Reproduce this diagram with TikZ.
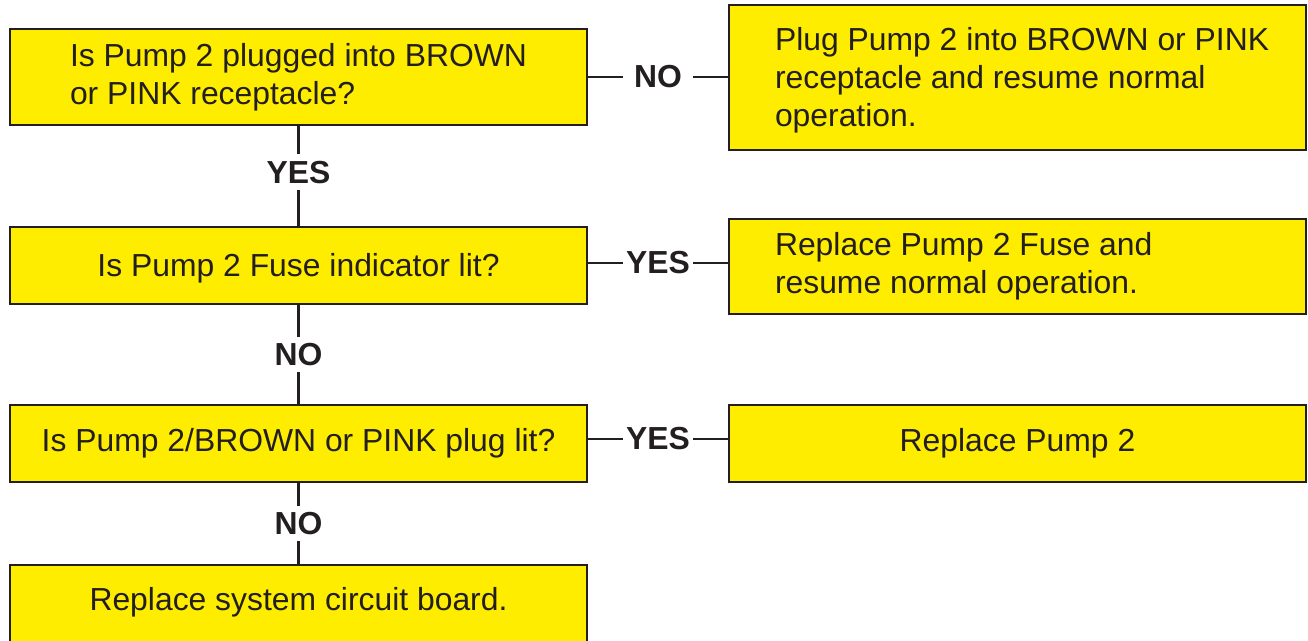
\documentclass[tikz,border=0pt]{standalone}
\usepackage{fontspec}
\setmainfont{Liberation Sans}
\definecolor{yel}{HTML}{FFED00}
\definecolor{ink}{HTML}{231F20}
\newcommand{\lefttext}[1]{\makebox[363.75pt][l]{\begin{tabular}{@{}l@{}}#1\end{tabular}}}
\begin{document}
\begin{tikzpicture}[x=0.75pt,y=-0.75pt,
  box/.style={draw=ink, line width=2.2pt, fill=yel, minimum width=432.75pt,
    inner sep=0pt, text=ink, font=\fontsize{23.9}{28.5}\selectfont},
  conn/.style={draw=ink, line width=1.9pt},
  lbl/.style={fill=white, text=ink, inner xsep=2pt, inner ysep=5pt,
    font=\fontsize{23.9}{28.5}\selectfont\bfseries},
  lblwide/.style={lbl, inner xsep=8pt}]
\useasboundingbox (0,0) rectangle (1308,641);
\fill[white] (0,0) rectangle (1308,641);
% left column
\node[box, minimum height=72pt, align=left] (b1) at (298.5,77)
  {Is Pump 2 plugged into BROWN\\or PINK receptacle?};
\node[box, minimum height=57.75pt, text depth=0.8pt] (b2) at (298.5,265.5)
  {Is Pump 2 Fuse indicator lit?};
\node[box, minimum height=57.75pt] (b3) at (298.5,443.5)
  {Is Pump 2/BROWN or PINK plug lit?};
\node[box, minimum height=67.5pt, text depth=17pt] (b4) at (298.5,610)
  {Replace system circuit board.};
% right column
\node[box, minimum height=108.75pt] (r1) at (1017.5,77.5)
  {\raisebox{-2.2pt}[\height][\depth]{\lefttext{Plug Pump 2 into BROWN or PINK\\receptacle and resume normal\\operation.}}};
\node[box, minimum height=71.25pt] (r2) at (1017.5,266.5)
  {\lefttext{Replace Pump 2 Fuse and\\resume normal operation.}};
\node[box, minimum height=57.75pt] (r3) at (1017.5,443.5)
  {Replace Pump 2};
% vertical connectors
\draw[conn] (b1.south) -- node[lbl, pos=0.46] {YES} (b2.north);
\draw[conn] (b2.south) -- node[lbl] {NO} (b3.north);
\draw[conn] (b3.south) -- node[lbl] {NO} (b4.north);
% horizontal connectors
\draw[conn] (b1.east) -- node[lblwide] {NO} (b1.east -| r1.west);
\draw[conn] ([yshift=1.9pt]b2.east) -- node[lbl] {YES} ([yshift=1.9pt]b2.east -| r2.west);
\draw[conn] ([yshift=3.4pt]b3.east) -- node[lbl] {YES} ([yshift=3.4pt]b3.east -| r3.west);
\end{tikzpicture}
\end{document}
